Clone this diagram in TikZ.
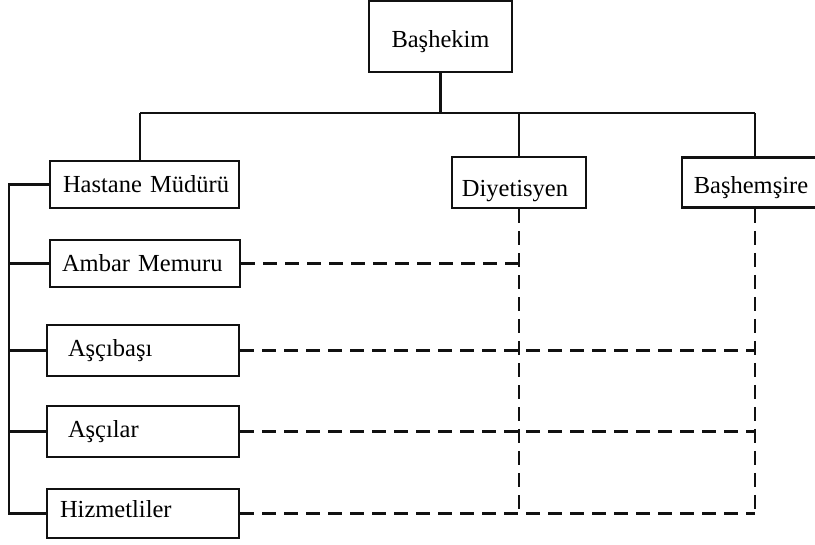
\documentclass[tikz,border=0pt]{standalone}
\usepackage{fontspec}
\setmainfont{Liberation Serif}
\usepackage{tikz}
\usetikzlibrary{positioning,calc}
\definecolor{ink}{HTML}{111111}
\tikzset{
  card/.style={draw=ink,fill=white,line width=2.6pt,align=center,
               inner sep=0pt,text height=#1,text depth=0pt,
               font=\fontsize{24.5}{28}\selectfont},
  card/.default=17pt,
  solidline/.style={line width=2.6pt,draw=ink},
  dashline/.style={line width=2.6pt,draw=ink,dash pattern=on 14pt off 8pt}
}
\begin{document}
\begin{tikzpicture}[x=1pt,y=-1pt]
    \path[use as bounding box] (0,0) rectangle (815,545);

    % top
    \node[card=22pt,minimum width=143pt,minimum height=71pt] (bashekim)
      at (440.5,36.5) {Başhekim};
    \coordinate (busL) at (140,113);
    \coordinate (busR) at (755,113);
    \coordinate (spine) at (9,300);

    % second level
    \node[card=17pt,minimum width=189pt,minimum height=47pt,
          text width=175pt,align=left] (hastane) at (144.5,184.5)
      {\hspace*{6pt}Hastane Müdürü};
    \node[card=29pt,minimum width=134pt,minimum height=51pt] (diyet)
      at (519,182.5) {\hspace*{-8pt}Diyetisyen};
    \node[card=23pt,minimum width=146pt,minimum height=50pt] (bashem)
      at (755,182.5) {Başhemşire\hspace*{8pt}};

    % kitchen staff
    \node[card=17pt,minimum width=190pt,minimum height=47pt,
          text width=176pt,align=left] (ambar) at (145,263.5)
      {\hspace*{5pt}Ambar Memuru};
    \node[card=13pt,minimum width=192pt,minimum height=51pt,
          text width=178pt,align=left] (ascibasi) at (143,350.5)
      {\hspace*{14pt}Aşçıbaşı};
    \node[card=13pt,minimum width=192pt,minimum height=51pt,
          text width=178pt,align=left] (ascilar) at (143,431.5)
      {\hspace*{14pt}Aşçılar};
    \node[card=9pt,minimum width=192pt,minimum height=49pt,
          text width=178pt,align=left] (hizmet) at (143,513.5)
      {\hspace*{6pt}Hizmetliler};

    \draw[solidline] (bashekim.south) -- (bashekim.south |- busL);
    \draw[solidline] (busL) -- (busR);
    \draw[solidline] (busL) -- (busL |- hastane.north);
    \draw[solidline] (diyet.north |- busL) -- (diyet.north);
    \draw[solidline] (busR) -- (bashem.north);

    \draw[solidline] (hastane.west) -- (hastane.west -| spine)
      -- (hizmet.west -| spine) -- (hizmet.west);
    \foreach \n in {ambar,ascibasi,ascilar}
      \draw[solidline] (\n.west -| spine) -- (\n.west);

    \draw[dashline] (diyet.south) -- (diyet.south |- hizmet.east);
    \draw[dashline] (bashem.south) -- (bashem.south |- hizmet.east);
    \draw[dashline] (ambar.east) -- (ambar.east -| diyet.south);
    \foreach \n in {ascibasi,ascilar,hizmet}
      \draw[dashline] (\n.east) -- (\n.east -| bashem.south);
  \end{tikzpicture}
\end{document}
